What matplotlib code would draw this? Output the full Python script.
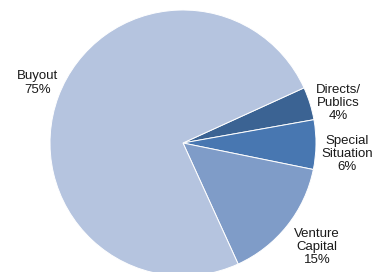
import matplotlib
matplotlib.use("Agg")
import matplotlib.pyplot as plt

categories = ["Directs/\nPublics", "Special\nSituation", "Venture\nCapital", "Buyout"]
values = [4, 6, 15, 75]
colors = ["#3B6393", "#4877B1", "#7F9CC8", "#B5C4DF"]
label_pos = [(338, 169), (347, 118), (317, 25), (38, 189)]

plt.rcParams['font.family'] = ['Liberation Sans', 'DejaVu Sans']

fig = plt.figure(figsize=(3.76, 2.72), dpi=100)
ax = fig.add_axes([0, 0, 1, 1])
ax.pie(values, colors=colors, startangle=24.5, counterclock=False,
       center=(183, 129), radius=133, frame=True,
       wedgeprops=dict(edgecolor="white", linewidth=0.7))
ax.set_xlim(0, 376)
ax.set_ylim(0, 272)
ax.set_aspect('equal')
ax.set_axis_off()

for cat, v, (x, y) in zip(categories, values, label_pos):
    ax.text(x, y, f"{cat}\n{v}%", ha="center", va="center", fontsize=9.5,
            color="#1a1a1a", linespacing=1.12)

fig.savefig("out.png", dpi=100)
